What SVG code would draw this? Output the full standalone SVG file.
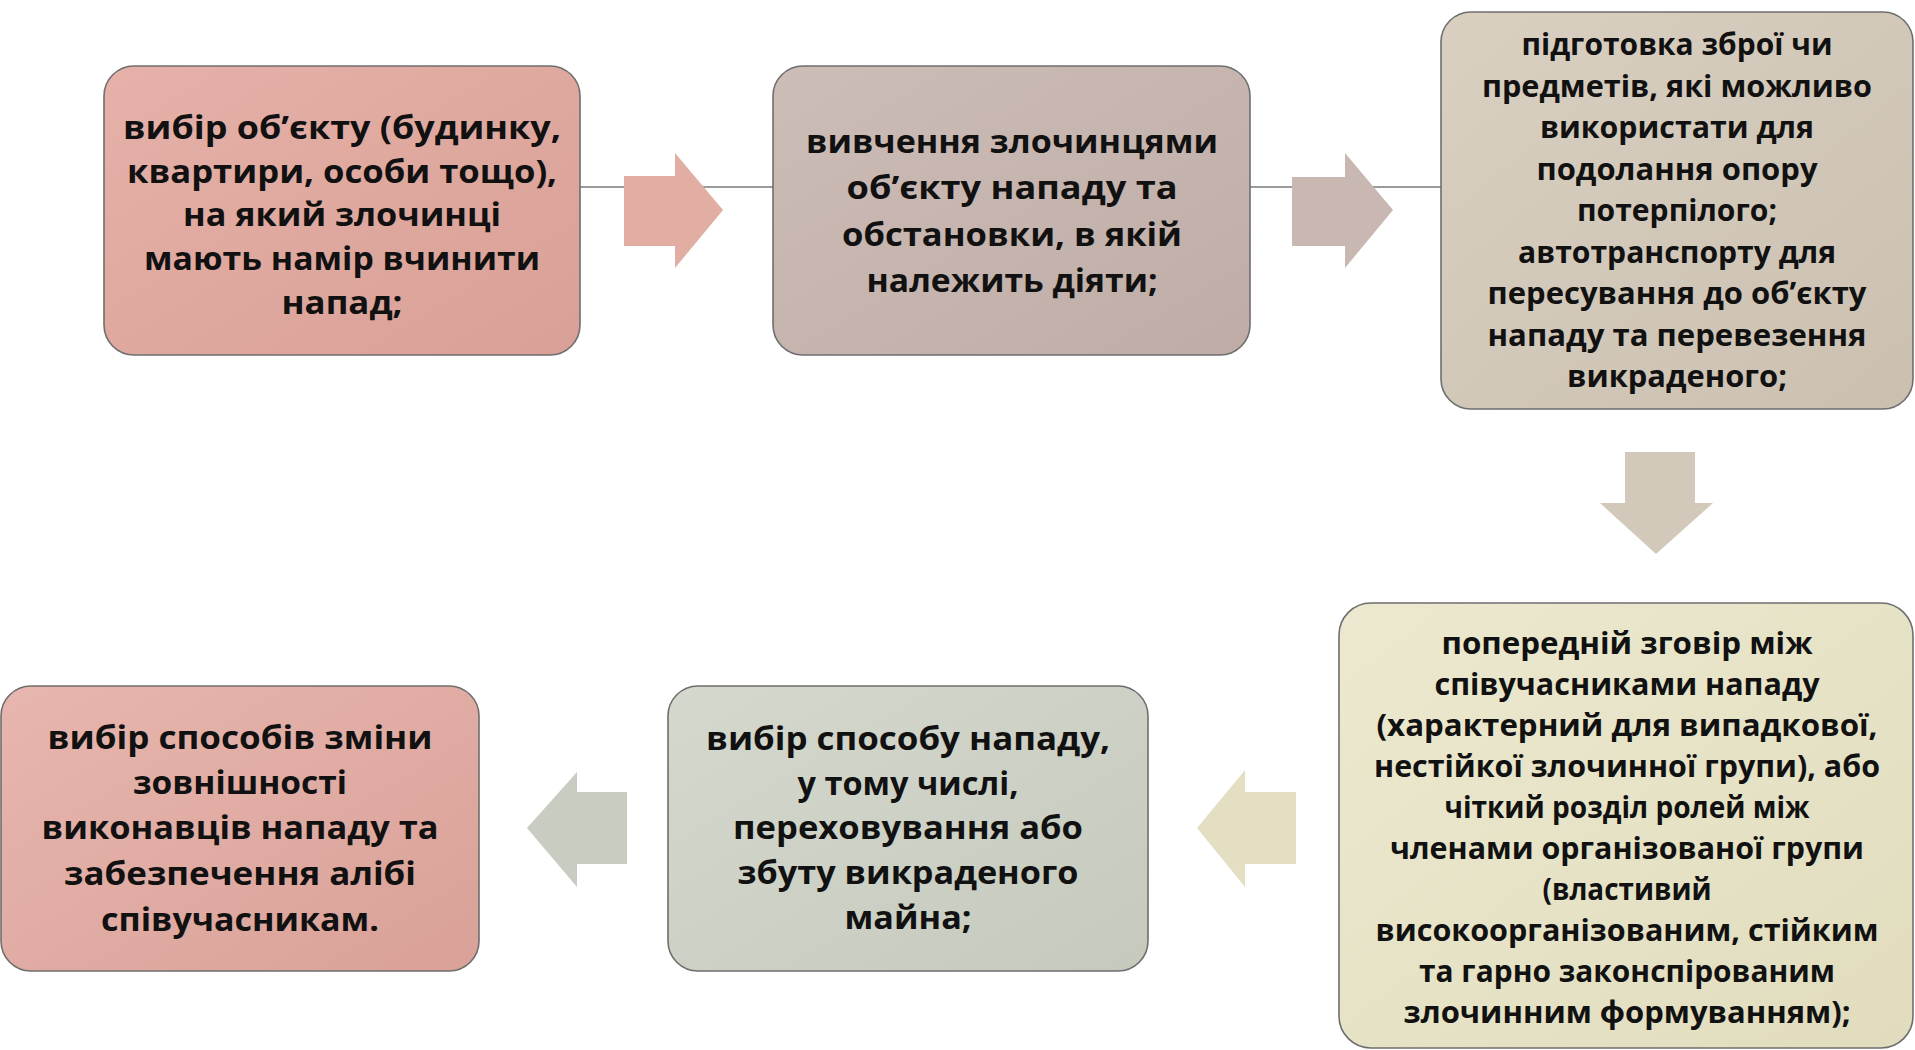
<svg xmlns="http://www.w3.org/2000/svg" width="1915" height="1050" viewBox="0 0 1915 1050">
<style>
.box{stroke:#6e6e6e;stroke-width:1.6}
.t{font-family:"Open Sans","DejaVu Sans",sans-serif;font-weight:700;fill:#111;text-anchor:middle}
.t1{font-size:32px}
.t2{font-size:30px}
.conn{stroke:#7a7a7a;stroke-width:1.6;fill:none}
</style>
<defs>
<linearGradient id="g1" x1="0" y1="0" x2="1" y2="1"><stop offset="0" stop-color="#e5b1a8"/><stop offset="1" stop-color="#d9a097"/></linearGradient>
<linearGradient id="g2" x1="0" y1="0" x2="1" y2="1"><stop offset="0" stop-color="#cdbdb7"/><stop offset="1" stop-color="#bfaca6"/></linearGradient>
<linearGradient id="g3" x1="0" y1="0" x2="1" y2="1"><stop offset="0" stop-color="#d9d0c2"/><stop offset="1" stop-color="#cbc0b0"/></linearGradient>
<linearGradient id="g4" x1="0" y1="0" x2="1" y2="1"><stop offset="0" stop-color="#ece9d0"/><stop offset="1" stop-color="#e1dcbd"/></linearGradient>
<linearGradient id="g5" x1="0" y1="0" x2="1" y2="1"><stop offset="0" stop-color="#d5d8cd"/><stop offset="1" stop-color="#c6cabd"/></linearGradient>
<linearGradient id="g6" x1="0" y1="0" x2="1" y2="1"><stop offset="0" stop-color="#e7b6ae"/><stop offset="1" stop-color="#d9a198"/></linearGradient>
</defs>
<rect width="1915" height="1050" fill="#ffffff"/>
<g id="connectors">
<line class="conn" x1="580" y1="187" x2="773" y2="187"/>
<line class="conn" x1="1250" y1="187" x2="1441" y2="187"/>
<polygon id="arrow1" points="624,176 675,176 675,153 723,210 675,268 675,246 624,246" fill="#e2aea4"/>
<polygon id="arrow2" points="1292,177 1345,177 1345,153 1393,210 1345,268 1345,246 1292,246" fill="#c9b8b2"/>
<polygon id="arrow3" points="1625,452 1695,452 1695,503 1713,503 1656,554 1600,503 1625,503" fill="#d2c9bb"/>
<polygon id="arrow4" points="1296,792 1245,792 1245,770 1197,828 1245,887 1245,864 1296,864" fill="#e4dec2"/>
<polygon id="arrow5" points="627,792 577,792 577,772 527,828 577,887 577,864 627,864" fill="#c8ccc1"/>
</g>
<g id="node1">
<rect class="box" x="104" y="66" width="476" height="289" rx="30" fill="url(#g1)"/>
<text class="t t1" x="342" y="139" textLength="438" lengthAdjust="spacingAndGlyphs">вибір об’єкту (будинку,</text>
<text class="t t1" x="342" y="183" textLength="430" lengthAdjust="spacingAndGlyphs">квартири, особи тощо),</text>
<text class="t t1" x="342" y="226" textLength="318" lengthAdjust="spacingAndGlyphs">на який злочинці</text>
<text class="t t1" x="342" y="270" textLength="396" lengthAdjust="spacingAndGlyphs">мають намір вчинити</text>
<text class="t t1" x="342" y="314" textLength="121" lengthAdjust="spacingAndGlyphs">напад;</text>
</g>
<g id="node2">
<rect class="box" x="773" y="66" width="477" height="289" rx="30" fill="url(#g2)"/>
<text class="t t1" x="1012" y="153" textLength="412" lengthAdjust="spacingAndGlyphs">вивчення злочинцями</text>
<text class="t t1" x="1012" y="199" textLength="331" lengthAdjust="spacingAndGlyphs">об’єкту нападу та</text>
<text class="t t1" x="1012" y="246" textLength="340" lengthAdjust="spacingAndGlyphs">обстановки, в якій</text>
<text class="t t1" x="1012" y="292" textLength="291" lengthAdjust="spacingAndGlyphs">належить діяти;</text>
</g>
<g id="node3">
<rect class="box" x="1441" y="12" width="472" height="397" rx="30" fill="url(#g3)"/>
<text class="t t2" x="1677" y="55" textLength="311" lengthAdjust="spacingAndGlyphs">підготовка зброї чи</text>
<text class="t t2" x="1677" y="97" textLength="390" lengthAdjust="spacingAndGlyphs">предметів, які можливо</text>
<text class="t t2" x="1677" y="138" textLength="274" lengthAdjust="spacingAndGlyphs">використати для</text>
<text class="t t2" x="1677" y="180" textLength="281" lengthAdjust="spacingAndGlyphs">подолання опору</text>
<text class="t t2" x="1677" y="221" textLength="200" lengthAdjust="spacingAndGlyphs">потерпілого;</text>
<text class="t t2" x="1677" y="263" textLength="318" lengthAdjust="spacingAndGlyphs">автотранспорту для</text>
<text class="t t2" x="1677" y="304" textLength="379" lengthAdjust="spacingAndGlyphs">пересування до об’єкту</text>
<text class="t t2" x="1677" y="346" textLength="379" lengthAdjust="spacingAndGlyphs">нападу та перевезення</text>
<text class="t t2" x="1677" y="387" textLength="220" lengthAdjust="spacingAndGlyphs">викраденого;</text>
</g>
<g id="node4">
<rect class="box" x="1339" y="603" width="574" height="445" rx="32" fill="url(#g4)"/>
<text class="t t2" x="1627" y="654" textLength="371" lengthAdjust="spacingAndGlyphs">попередній зговір між</text>
<text class="t t2" x="1627" y="695" textLength="385" lengthAdjust="spacingAndGlyphs">співучасниками нападу</text>
<text class="t t2" x="1627" y="736" textLength="501" lengthAdjust="spacingAndGlyphs">(характерний для випадкової,</text>
<text class="t t2" x="1627" y="777" textLength="506" lengthAdjust="spacingAndGlyphs">нестійкої злочинної групи), або</text>
<text class="t t2" x="1627" y="818" textLength="365" lengthAdjust="spacingAndGlyphs">чіткий розділ ролей між</text>
<text class="t t2" x="1627" y="859" textLength="474" lengthAdjust="spacingAndGlyphs">членами організованої групи</text>
<text class="t t2" x="1627" y="900" textLength="169" lengthAdjust="spacingAndGlyphs">(властивий</text>
<text class="t t2" x="1627" y="941" textLength="503" lengthAdjust="spacingAndGlyphs">високоорганізованим, стійким</text>
<text class="t t2" x="1627" y="982" textLength="416" lengthAdjust="spacingAndGlyphs">та гарно законспірованим</text>
<text class="t t2" x="1627" y="1023" textLength="447" lengthAdjust="spacingAndGlyphs">злочинним формуванням);</text>
</g>
<g id="node5">
<rect class="box" x="668" y="686" width="480" height="285" rx="30" fill="url(#g5)"/>
<text class="t t1" x="908" y="750" textLength="404" lengthAdjust="spacingAndGlyphs">вибір способу нападу,</text>
<text class="t t1" x="908" y="795" textLength="221" lengthAdjust="spacingAndGlyphs">у тому числі,</text>
<text class="t t1" x="908" y="839" textLength="350" lengthAdjust="spacingAndGlyphs">переховування або</text>
<text class="t t1" x="908" y="884" textLength="341" lengthAdjust="spacingAndGlyphs">збуту викраденого</text>
<text class="t t1" x="908" y="929" textLength="127" lengthAdjust="spacingAndGlyphs">майна;</text>
</g>
<g id="node6">
<rect class="box" x="1" y="686" width="478" height="285" rx="30" fill="url(#g6)"/>
<text class="t t1" x="240" y="749" textLength="385" lengthAdjust="spacingAndGlyphs">вибір способів зміни</text>
<text class="t t1" x="240" y="794" textLength="214" lengthAdjust="spacingAndGlyphs">зовнішності</text>
<text class="t t1" x="240" y="839" textLength="397" lengthAdjust="spacingAndGlyphs">виконавців нападу та</text>
<text class="t t1" x="240" y="885" textLength="352" lengthAdjust="spacingAndGlyphs">забезпечення алібі</text>
<text class="t t1" x="240" y="931" textLength="278" lengthAdjust="spacingAndGlyphs">співучасникам.</text>
</g>
</svg>
